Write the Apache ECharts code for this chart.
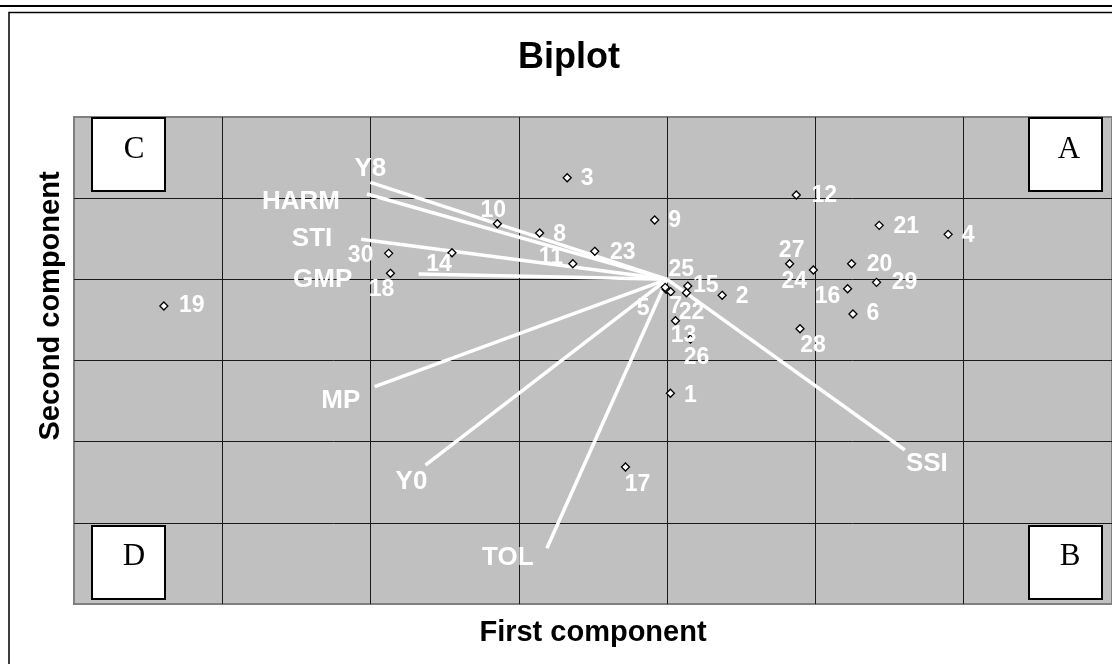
<!DOCTYPE html>
<html>
<head>
<meta charset="utf-8">
<title>Biplot</title>
<script src="https://cdn.jsdelivr.net/npm/echarts@6/dist/echarts.min.js"></script>
<style>
html, body { margin: 0; padding: 0; background: #fff; }
#chart { width: 1112px; height: 664px; }
</style>
</head>
<body>
<div id="chart"></div>
<script>
// genotype scores on the first two components
const genotypes = ['1','2','3','4','5','6','7','8','9','10','11','12','13','14','15',
                   '16','17','18','19','20','21','22','23','24','25','26','27','28','29','30'];
const pc1 = [0.022, 0.371, -0.674, 1.895, -0.007, 1.253, 0.024, -0.860, -0.084, -1.145,
             -0.636, 0.871, 0.056, -1.451, 0.139, 1.217, -0.281, -1.866, -3.394, 1.244,
             1.430, 0.130, -0.488, 0.986, -0.013, 0.157, 0.826, 0.896, 1.412, -1.878];
const pc2 = [-1.404, -0.197, 1.252, 0.554, -0.123, -0.427, -0.153, 0.570, 0.731, 0.685,
             0.192, 1.039, -0.510, 0.328, -0.083, -0.116, -2.312, 0.074, -0.329, 0.192,
             0.665, -0.165, 0.345, 0.115, -0.099, -0.735, 0.192, -0.609, -0.037, 0.320];

// trait vectors
const traits = ['Y8', 'HARM', 'STI', 'GMP', 'MP', 'Y0', 'TOL', 'SSI'];
const traitPc1 = [-2.001, -2.024, -2.064, -1.676, -1.972, -1.630, -0.811, 1.603];
const traitPc2 = [1.195, 1.051, 0.493, 0.065, -1.323, -2.288, -3.314, -2.103];

const quadrants = ['C', 'A', 'D', 'B'];

// label placement: pixel offset of the label centre from its mark
const genoLabelOffset = [
  [20, 2], [20, 1], [20, 1], [20, 1], [-23, 19], [20, 0], [5, 15], [20, 2], [20, 1], [-4, -13],
  [-22, -6], [28, 1], [8, 15], [-13, 12], [18, 0], [-20, 8], [12, 18], [-9, 16], [28, 0], [28, 1],
  [27, 1], [5, 20], [28, 1], [-19, 12], [16, -18], [6, 19], [2, -13], [13, 17], [28, 0], [-28, 2]
];
const traitLabelOffset = [[0, -14], [-66, 8], [-49, 0], [-96, 6], [-34, 14], [-14, 17], [-39, 10], [22, 14]];

const FONT = "'Liberation Sans', Arial, Helvetica, sans-serif";
const SERIF = "'Liberation Serif', 'Times New Roman', serif";

let myChart = echarts.init(document.getElementById('chart'));

function quadBox(x, y, letter, lx, ly) {
  return [
    { type: 'rect', shape: { x: x, y: y, width: 73, height: 73 },
      style: { fill: '#fff', stroke: '#000', lineWidth: 2 }, z: 100 },
    { type: 'text', x: lx, y: ly, z: 101,
      style: { text: letter, font: '31px ' + SERIF, fill: '#000', textAlign: 'center', textVerticalAlign: 'middle' } }
  ];
}

let option = {
  animation: false,
  backgroundColor: '#fff',
  grid: {
    left: 74, top: 117, width: 1039, height: 487,
    show: true,
    backgroundColor: '#c0c0c0',
    borderColor: '#808080',
    borderWidth: 2
  },
  xAxis: {
    type: 'value', min: -4, max: 3, interval: 1,
    axisLine: { show: false }, axisTick: { show: false }, axisLabel: { show: false },
    splitLine: { show: true, showMinLine: false, showMaxLine: false, lineStyle: { color: '#1a1a1a', width: 1 } },
    name: 'First component',
    nameLocation: 'middle',
    nameGap: 14,
    nameTextStyle: { fontFamily: FONT, fontWeight: 'bold', fontSize: 29, color: '#000' }
  },
  yAxis: {
    type: 'value', min: -4, max: 2, interval: 1,
    axisLine: { show: false }, axisTick: { show: false }, axisLabel: { show: false },
    splitLine: { show: true, showMinLine: false, showMaxLine: false, lineStyle: { color: '#1a1a1a', width: 1 } }
  },
  graphic: [
    { type: 'line', shape: { x1: 0, y1: 6, x2: 1112, y2: 6 }, style: { stroke: '#000', lineWidth: 2 } },
    { type: 'rect', shape: { x: 9, y: 12.5, width: 1200, height: 700 }, style: { fill: 'none', stroke: '#000', lineWidth: 1.5 } },
    { type: 'text', x: 569, y: 58, style: { text: 'Biplot', font: 'bold 36px ' + FONT, fill: '#000', textAlign: 'center', textVerticalAlign: 'middle' } },
    { type: 'text', x: 51, y: 306, rotation: Math.PI / 2,
      style: { text: 'Second component', font: 'bold 29px ' + FONT, fill: '#000', textAlign: 'center', textVerticalAlign: 'middle' } }
  ]
    .concat(quadBox(92, 118, quadrants[0], 134, 150))
    .concat(quadBox(1029, 118, quadrants[1], 1069, 150))
    .concat(quadBox(92, 526, quadrants[2], 134, 557))
    .concat(quadBox(1029, 526, quadrants[3], 1070, 557)),
  series: [
    {
      type: 'lines',
      coordinateSystem: 'cartesian2d',
      z: 2,
      lineStyle: { color: '#fff', width: 3.5, opacity: 1 },
      data: traits.map((t, i) => ({ coords: [[0, 0], [traitPc1[i], traitPc2[i]]] }))
    },
    {
      type: 'scatter',
      z: 3,
      symbol: 'diamond',
      symbolSize: 8,
      itemStyle: { color: '#fff', borderColor: '#000', borderWidth: 1.3, opacity: 1 },
      label: {
        show: true, position: 'inside',
        fontFamily: FONT, fontWeight: 'bold', fontSize: 23, color: '#fff',
        textBorderWidth: 0, opacity: 1,
        formatter: p => p.name
      },
      data: genotypes.map((g, i) => ({
        name: g, value: [pc1[i], pc2[i]],
        label: { offset: genoLabelOffset[i] }
      }))
    },
    {
      type: 'scatter',
      z: 4,
      symbolSize: 0.1,
      itemStyle: { color: 'rgba(0,0,0,0)' },
      label: {
        show: true, position: 'inside',
        fontFamily: FONT, fontWeight: 'bold', fontSize: 26, color: '#fff',
        textBorderWidth: 0, opacity: 1,
        formatter: p => p.name
      },
      data: traits.map((t, i) => ({
        name: t, value: [traitPc1[i], traitPc2[i]],
        label: { offset: traitLabelOffset[i] }
      }))
    }
  ]
};
myChart.setOption(option);
</script>
</body>
</html>
